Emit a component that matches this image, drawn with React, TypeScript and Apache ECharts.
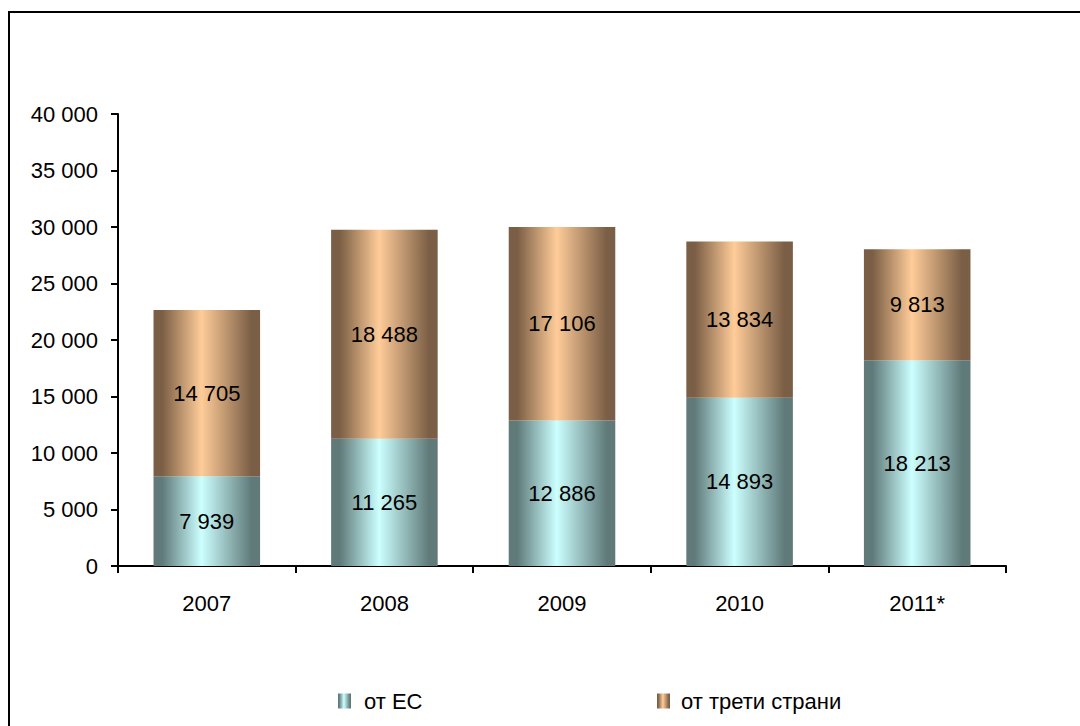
import React, { useEffect, useRef } from "react";
import * as echarts from "echarts";

const categories = ["2007", "2008", "2009", "2010", "2011*"];
const fromEU = [7939, 11265, 12886, 14893, 18213];
const fromThird = [14705, 18488, 17106, 13834, 9813];
const seriesNames = ["от ЕС", "от трети страни"];

const FONT = "'Liberation Sans', Arial, sans-serif";
const FS = 22;

const fmt = (v: number) => {
  const s = String(Math.round(v));
  return s.replace(/\B(?=(\d{3})+(?!\d))/g, " ");
};

const grad = (edge: string, mid: string) =>
  new echarts.graphic.LinearGradient(0, 0, 1, 0, [
    { offset: 0, color: edge },
    { offset: 0.08, color: edge },
    { offset: 0.45, color: mid },
    { offset: 0.92, color: edge },
    { offset: 1, color: edge },
  ]);

export default function App() {
  const ref = useRef<HTMLDivElement>(null);
  useEffect(() => {
    if (!ref.current) return;
    const chart = echarts.init(ref.current, null, { renderer: "svg" });
    const euColor = grad("#5f7a79", "#ccffff");
    const thColor = grad("#7a5e45", "#ffcc99");
    const label = {
      show: true,
      position: "inside",
      color: "#000",
      fontFamily: FONT,
      fontSize: FS,
      formatter: (p: any) => fmt(p.value),
    };
    const legendCommon = {
      top: 690,
      padding: 0,
      itemWidth: 13,
      itemHeight: 15,
      itemGap: 0,
      icon: "rect",
    };
    chart.setOption({
      animation: false,
      backgroundColor: "#fff",
      textStyle: { fontFamily: FONT },
      graphic: [
        {
          type: "rect",
          shape: { x: 9, y: 12, width: 1100, height: 740 },
          style: { fill: "none", stroke: "#000", lineWidth: 2 },
          silent: true,
        },
      ],
      legend: [
        {
          ...legendCommon,
          data: [seriesNames[0]],
          left: 338,
          textStyle: { fontFamily: FONT, fontSize: FS, color: "#000", padding: [0, 0, 0, 8], lineHeight: 15 },
        },
        {
          ...legendCommon,
          data: [seriesNames[1]],
          left: 657,
          textStyle: { fontFamily: FONT, fontSize: FS, color: "#000", padding: [0, 0, 0, 6], lineHeight: 15 },
        },
      ],
      grid: { left: 118, right: 74, top: 114, bottom: 160 },
      xAxis: {
        type: "category",
        data: categories,
        axisLine: { lineStyle: { color: "#000", width: 2 } },
        axisTick: { show: true, alignWithLabel: false, length: 7, inside: false, lineStyle: { color: "#000", width: 2 } },
        axisLabel: { color: "#000", fontFamily: FONT, fontSize: FS, margin: 26 },
      },
      yAxis: {
        type: "value",
        min: 0,
        max: 40000,
        interval: 5000,
        splitLine: { show: false },
        axisLine: { show: true, lineStyle: { color: "#000", width: 2 } },
        axisTick: { show: true, length: 7, lineStyle: { color: "#000", width: 2 } },
        axisLabel: { color: "#000", fontFamily: FONT, fontSize: FS, margin: 20, formatter: (v: number) => fmt(v) },
      },
      series: [
        {
          name: seriesNames[0],
          type: "bar",
          stack: "total",
          data: fromEU,
          barWidth: "60%",
          itemStyle: { color: euColor },
          label,
        },
        {
          name: seriesNames[1],
          type: "bar",
          stack: "total",
          data: fromThird,
          barWidth: "60%",
          itemStyle: { color: thColor },
          label,
        },
      ],
    });
    return () => chart.dispose();
  }, []);
  return (
    <div
      ref={ref}
      style={{ position: "fixed", left: 0, top: 0, width: 1080, height: 726 }}
    />
  );
}
